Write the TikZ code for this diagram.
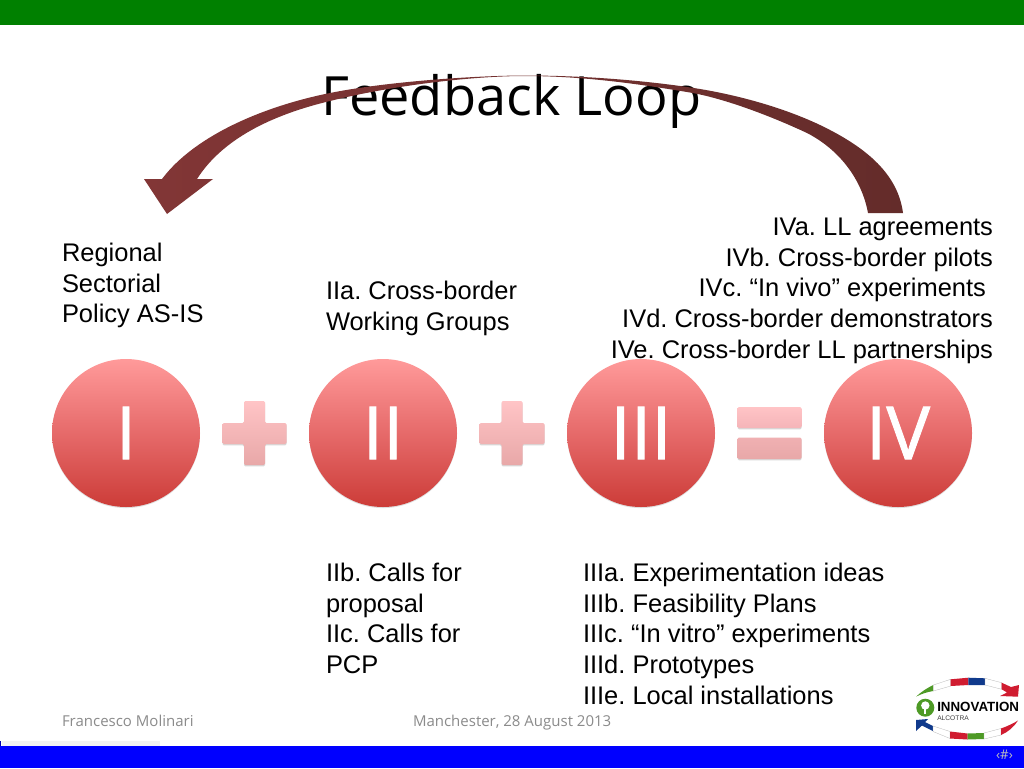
\documentclass[tikz,border=0pt]{standalone}
\usepackage{fontspec}
\setmainfont{Liberation Sans}
\newfontfamily\carl{Open Sans}
\newfontfamily\numf[FakeBold=1.2]{Open Sans}
\usetikzlibrary{shadows}
\frenchspacing
\definecolor{circtop}{HTML}{FF9A9A}
\definecolor{circmid}{HTML}{E66A6A}
\definecolor{circbot}{HTML}{CC3C38}
\definecolor{symtop}{HTML}{FFC4C6}
\definecolor{symbot}{HTML}{E8A8A8}
\definecolor{eqa}{HTML}{F5B4B8}
\definecolor{eqb}{HTML}{F0B0B2}
\definecolor{footgray}{HTML}{8B8B8B}
\definecolor{arrowl}{HTML}{823636}
\definecolor{arrowr}{HTML}{642C2A}
\definecolor{itgreen}{HTML}{4E9A26}
\definecolor{itred}{HTML}{D01C30}
\definecolor{frblue}{HTML}{103A8C}
\tikzset{
  blockstyle/.style={inner sep=0pt,outer sep=0pt,font=\fontsize{19.1}{23.03}\selectfont,text=black},
  numeral/.style={circle,minimum size=111pt,inner sep=0pt,top color=circtop,bottom color=circbot,middle color=circmid,text=white,font=\numf\fontsize{55}{60}\selectfont,drop shadow={shadow xshift=0pt,shadow yshift=-0.8pt,opacity=.25}},
  symb/.style={top color=symtop,bottom color=symbot,draw=none,drop shadow={shadow xshift=0pt,shadow yshift=-1pt,opacity=.3}},
  foot/.style={inner sep=0pt,outer sep=0pt,anchor=base west,text=footgray,font=\carl\fontsize{11.25}{14}\selectfont},
}
\begin{document}
\begin{tikzpicture}[x=0.75pt,y=-0.75pt]
\useasboundingbox (0,0) rectangle (1024,768);
\fill[white] (0,0) rectangle (1024,768);
\fill[green!50!black] (0,0) rectangle (1024,25);
\fill[blue] (0,746) rectangle (1024,768);
\fill[black!5] (2,741) rectangle (160,746);
\fill[blue!70!black] (0,741) rectangle (1.2,746);
\node[inner sep=0pt,anchor=base west,font=\carl\fontsize{40.6}{50}\selectfont] (title) at (321,115) {Feedback Loop};
% feedback arrow
\path[left color=arrowl,right color=arrowr]
 (903,213) .. controls (898,175) and (868,148) .. (820,125)
 .. controls (780,106) and (730,93) .. (687,87)
 .. controls (650,81.5) and (590,75.5) .. (525,75.5)
 .. controls (480,75.5) and (390,81) .. (330,93)
 .. controls (265,106) and (195,135) .. (162,179)
 -- (144,179) -- (167,214) -- (213,179) -- (197,179)
 .. controls (225,135) and (280,113) .. (330,101)
 .. controls (390,86) and (470,76) .. (525,76)
 .. controls (590,76) and (650,86) .. (687,92)
 .. controls (725,98) and (775,118) .. (807,133)
 .. controls (840,150) and (862,180) .. (868,213)
 -- cycle;
% numerals
\node[numeral] (n1) at (126,433) {I};
\node[numeral] (n2) at (383,433) {II};
\node[numeral] (n3) at (641,433) {III};
\node[numeral] (n4) at (898,433) {IV};
% operators
\path[symb,rounded corners=1pt] (244,401) -- (265,401) -- (265,423) -- (286.5,423) -- (286.5,444) -- (265,444) -- (265,465) -- (244,465) -- (244,444) -- (222.5,444) -- (222.5,423) -- (244,423) -- cycle;
\path[symb,rounded corners=1pt] (501.5,401) -- (522.5,401) -- (522.5,423) -- (544.5,423) -- (544.5,444) -- (522.5,444) -- (522.5,465) -- (501.5,465) -- (501.5,444) -- (479.5,444) -- (479.5,423) -- (501.5,423) -- cycle;
\path[symb,top color=symtop,bottom color=eqa,rounded corners=1pt] (737.5,407) rectangle (801.5,428);
\path[symb,top color=eqb,bottom color=symbot,rounded corners=1pt] (737.5,437.5) rectangle (801.5,459);
% texts
\node[blockstyle,anchor=north west,align=left] (t1) at (62,243) {Regional\\Sectorial\\Policy AS-IS};
\node[blockstyle,anchor=north west,align=left] (t2) at (326,281) {IIa. Cross-border\\Working Groups};
\node[blockstyle,anchor=north east,align=right] (t3) at (993,217.8) {IVa. LL agreements\\IVb. Cross-border pilots\\IVc. “In vivo” experiments\rule{5.3pt}{0pt}\\IVd. Cross-border demonstrators\\IVe. Cross-border LL partnerships};
\node[blockstyle,anchor=north west,align=left] (t4) at (326,563) {IIb. Calls for\\proposal\\IIc. Calls for\\PCP};
\node[blockstyle,anchor=north west,align=left] (t5) at (583,563) {IIIa. Experimentation ideas\\IIIb. Feasibility Plans\\IIIc. “In vitro” experiments\\IIId. Prototypes\\IIIe. Local installations};
% footer
\node[foot] (f1) at (62,726) {Francesco Molinari};
\node[foot] (f2) at (413,726) {Manchester, 28 August 2013};
\node[inner sep=0pt,anchor=base,text=black!25,font=\carl\fontsize{10}{12}\selectfont] (f3) at (1004.5,759) {‹\#›};
% logo
\fill[itgreen] (916,696.7) .. controls (921,692) and (927,688) .. (933.3,685) -- (933.3,691) .. controls (927,692) and (921,694) .. (916,696.7) -- cycle;
\fill[white,draw=black!30,line width=.2pt] (933.3,685) -- (950.7,679.3) -- (950.7,686) -- (933.3,691) -- cycle;
\fill[itred] (950.7,679.3) -- (968.3,677.7) -- (968.3,685) -- (950.7,686) -- cycle;
\fill[frblue] (968.3,677.7) -- (985,678.3) -- (985,685) -- (968.3,685) -- cycle;
\fill[white,draw=black!30,line width=.2pt] (985,678.3) -- (1001.7,682.7) -- (1001.7,689.3) -- (985,685) -- cycle;
\fill[itred] (1001.7,682.7) -- (1011,687) -- (1019,685) -- (1018,696.7) -- (1000,696) -- (1007,692.5) -- (1001.7,689.3) -- cycle;
\fill[frblue] (916,720) -- (916,731) -- (922,725.5) -- (933,731) -- (933,726) -- (925,722) -- (928,719) -- cycle;
\fill[white,draw=black!30,line width=.2pt] (933,726) -- (950,731.5) -- (950,738.5) -- (933,731.5) -- cycle;
\fill[itred] (950,731.5) -- (967.5,733.5) -- (967.5,739.5) -- (950,738.5) -- cycle;
\fill[itgreen] (967.5,733.5) -- (984,733) -- (984,739) -- (967.5,739.5) -- cycle;
\fill[white,draw=black!30,line width=.2pt] (984,733) -- (1001,728.5) -- (1001,735) -- (984,739) -- cycle;
\fill[itred] (1001,728.5) .. controls (1008,726) and (1014,723) .. (1018,720.5) .. controls (1014,727) and (1008,732) .. (1001,735) -- cycle;
\fill[itgreen] (925.3,707.7) circle (9);
\fill[white] (925.3,705.5) circle (4.2);
\fill[white] (924.4,709) rectangle (926.2,713.5);
\node[inner sep=0pt,anchor=base west,font=\fontsize{10}{12}\bfseries\selectfont] (l1) at (937,711.7) {INNOVATION};
\node[inner sep=0pt,anchor=base west,text=black!75,font=\fontsize{5}{6}\selectfont] (l2) at (937,720) {ALCOTRA};
\end{tikzpicture}
\end{document}
